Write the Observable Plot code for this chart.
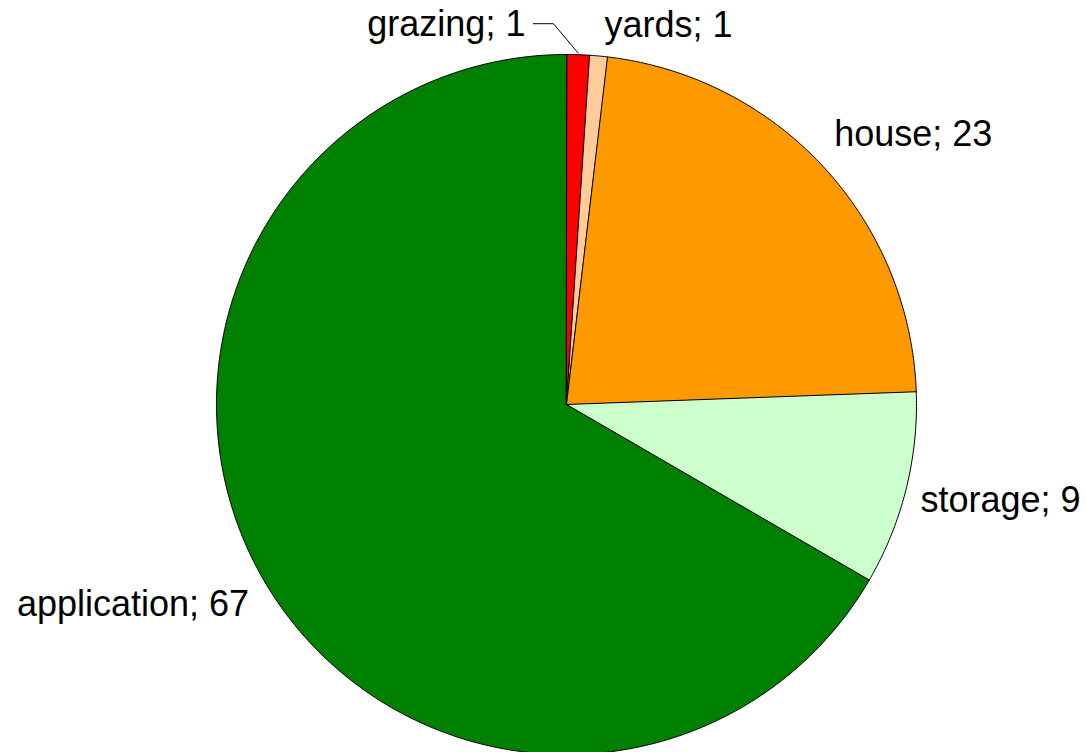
<!DOCTYPE html>
<html><head><meta charset="utf-8">
<script src="https://cdn.jsdelivr.net/npm/d3@7"></script>
<script src="https://cdn.jsdelivr.net/npm/@observablehq/plot@0.6"></script>
<style>body{margin:0;background:#fff}</style>
</head><body><div id="chart"></div>
<script>
// Data
const categories = ["grazing", "yards", "house", "storage", "application"];
const values = [1.05, 0.82, 22.55, 8.94, 66.64];
const colors = ["#ff0000", "#ffcc99", "#ff9900", "#ccffcc", "#008000"];

// Layout
const W = 1086, H = 752, CX = 566, CY = 404, R = 350;
const data = categories.map((name, i) => ({name, value: values[i]}));
const arcs = d3.pie().sort(null).value(d => d.value)(data);

const slicePts = [];
arcs.forEach(a => {
  slicePts.push({name: a.data.name, x: 0, y: 0});
  const n = Math.max(2, Math.ceil((a.endAngle - a.startAngle) / (Math.PI / 360)));
  for (let k = 0; k <= n; k++) {
    const t = a.startAngle + (a.endAngle - a.startAngle) * k / n;
    slicePts.push({name: a.data.name, x: Math.sin(t), y: Math.cos(t)});
  }
});

const layout = {
  grazing:     {rho: 1.12, anchor: "end",   line: "middle", dx: -54, dy: 12},
  yards:       {rho: 1.12, anchor: "start", line: "middle", dx: 2,   dy: 11},
  house:       {rho: 1.06, anchor: "start", line: "bottom", dx: -5,  dy: -7},
  storage:     {rho: 1.06, anchor: "start", line: "middle", dx: -6,  dy: 6},
  application: {rho: 1.06, anchor: "end",   line: "top",    dx: 4,   dy: 1}
};

const labels = arcs.map(a => {
  const m = (a.startAngle + a.endAngle) / 2;
  const L = layout[a.data.name];
  return {
    name: a.data.name,
    text: `${a.data.name}; ${Math.round(a.data.value)}`,
    x: L.rho * Math.sin(m), y: L.rho * Math.cos(m), mid: m, L
  };
});

// leader line for grazing
const g = labels.find(d => d.name === "grazing");
const gx = g.x + g.L.dx / R, gy = g.y - g.L.dy / R;
const leader = [
  {x: gx + 8 / R, y: gy + 1 / R},
  {x: gx + 28 / R, y: gy + 1 / R},
  {x: 1.005 * Math.sin(g.mid), y: 1.005 * Math.cos(g.mid)}
];

const font = "'Liberation Sans', Arial, sans-serif";
const textMarks = labels.map(d => Plot.text([d], {
  x: "x", y: "y", text: "text",
  textAnchor: d.L.anchor, lineAnchor: d.L.line,
  dx: d.L.dx, dy: d.L.dy,
  fontSize: 36, fill: "black", fontFamily: font
}));

const chart = Plot.plot({
  width: W, height: H,
  margin: 0,
  style: {background: "white", fontFamily: font},
  x: {domain: [-CX / R, (W - CX) / R], axis: null},
  y: {domain: [-(H - CY) / R, CY / R], axis: null},
  color: {domain: categories, range: colors},
  marks: [
    Plot.line(slicePts, {x: "x", y: "y", z: "name", fill: "name", stroke: "black", strokeWidth: 1, curve: "linear-closed"}),
    Plot.line(leader, {x: "x", y: "y", stroke: "black", strokeWidth: 1}),
    ...textMarks
  ]
});
document.getElementById("chart").appendChild(chart);
</script>
</body></html>
